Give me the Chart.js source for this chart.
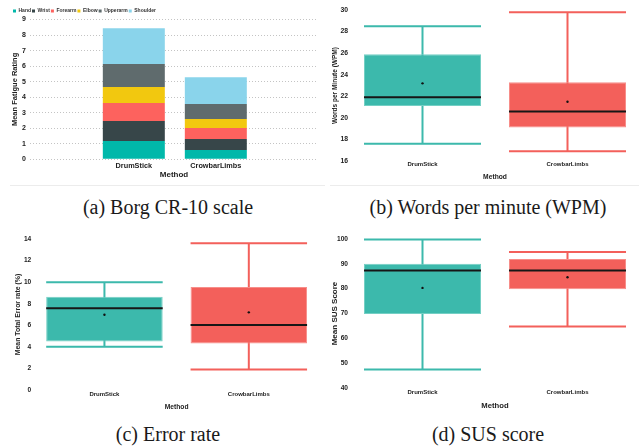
<!DOCTYPE html>
<html>
<head>
<meta charset="utf-8">
<script src="https://cdn.jsdelivr.net/npm/chart.js@4.4.1/dist/chart.umd.min.js"></script>
<style>
    body { margin: 0; width: 639px; height: 448px; overflow: hidden; background: #fff; position: relative; }
    canvas, .cap, .rule { position: absolute; }
    .cap { font-family: 'Liberation Serif', 'Times New Roman', serif; font-size: 20px; line-height: 20px; color: #1a1a1a; transform: translateX(-50%); white-space: nowrap; }
    .rule { height: 1px; background: #ececec; }
</style>
</head>
<body>
<canvas id="borgChart" width="322" height="186" style="left:0;top:0"></canvas>
<canvas id="wpmChart" width="318" height="186" style="left:322px;top:0"></canvas>
<canvas id="errorChart" width="322" height="192" style="left:0;top:222px"></canvas>
<canvas id="susChart" width="318" height="192" style="left:322px;top:222px"></canvas>
<div class="rule" style="left:10px;top:185px;width:315px"></div>
<div class="rule" style="left:330px;top:185px;width:309px"></div>
<div class="cap" style="left:168px;top:197px">(a) Borg CR-10 scale</div>
<div class="cap" style="left:488px;top:197px">(b) Words per minute (WPM)</div>
<div class="cap" style="left:168px;top:424px">(c) Error rate</div>
<div class="cap" style="left:488px;top:424px">(d) SUS score</div>
<script>
const methods = ['DrumStick', 'CrowbarLimbs'];

// Borg CR-10, stacked per body part
const bodyParts = ['Hand', 'Wrist', 'Forearm', 'Elbow', 'Upperarm', 'Shoulder'];
const partColors = ['#01B8AA', '#374649', '#FD625E', '#F2C80F', '#5F6B6D', '#8AD4EB'];
const fatigueDrumStick = [1.18, 1.28, 1.16, 1.03, 1.48, 2.31];
const fatigueCrowbarLimbs = [0.60, 0.71, 0.70, 0.58, 0.97, 1.73];

// box plots: min, q1, median, q3, max, mean per method
const methodColors = ['#3CB9AC', '#F3605B'];
const methodEdges = ['#74CFC4', '#F78E8A'];

const wpmMin = [17.6, 16.9];
const wpmQ1 = [21.1, 19.1];
const wpmMedian = [21.9, 20.6];
const wpmQ3 = [25.9, 23.3];
const wpmMax = [28.5, 29.8];
const wpmMean = [23.2, 21.5];

const errMin = [4.0, 1.9];
const errQ1 = [4.5, 4.3];
const errMedian = [7.57, 6.03];
const errQ3 = [8.65, 9.55];
const errMax = [10.0, 13.6];
const errMean = [6.97, 7.2];

const susMin = [47.4, 64.8];
const susQ1 = [69.8, 79.8];
const susMedian = [87.3, 87.3];
const susQ3 = [90.0, 91.9];
const susMax = [99.8, 94.8];
const susMean = [80.3, 84.6];

const ink = '#222';
const font = (size) => ({ family: "'Liberation Sans', Arial, sans-serif", size: size, weight: 'bold' });

// whiskers behind the box, median and mean on top
const boxWhiskers = {
    id: 'boxWhiskers',
    beforeDatasetsDraw(chart) {
        const ds = chart.data.datasets[0];
        const y = chart.scales.y;
        const ctx = chart.ctx;
        chart.getDatasetMeta(0).data.forEach((bar, i) => {
            const half = bar.width / 2;
            const hi = y.getPixelForValue(ds.whiskerHigh[i]);
            const lo = y.getPixelForValue(ds.whiskerLow[i]);
            ctx.save();
            ctx.strokeStyle = ds.backgroundColor[i];
            ctx.lineWidth = 2;
            ctx.beginPath();
            ctx.moveTo(bar.x, hi);
            ctx.lineTo(bar.x, lo);
            ctx.moveTo(bar.x - half, hi);
            ctx.lineTo(bar.x + half, hi);
            ctx.moveTo(bar.x - half, lo);
            ctx.lineTo(bar.x + half, lo);
            ctx.stroke();
            ctx.restore();
        });
    },
    afterDatasetsDraw(chart) {
        const ds = chart.data.datasets[0];
        const y = chart.scales.y;
        const ctx = chart.ctx;
        chart.getDatasetMeta(0).data.forEach((bar, i) => {
            const half = bar.width / 2;
            const med = y.getPixelForValue(ds.median[i]);
            const avg = y.getPixelForValue(ds.mean[i]);
            ctx.save();
            ctx.strokeStyle = '#161616';
            ctx.lineWidth = 2;
            ctx.beginPath();
            ctx.moveTo(bar.x - half, med);
            ctx.lineTo(bar.x + half, med);
            ctx.stroke();
            ctx.fillStyle = '#111';
            ctx.beginPath();
            ctx.arc(bar.x, avg, 1.2, 0, Math.PI * 2);
            ctx.fill();
            ctx.restore();
        });
    }
};

window.renderBoxChart = (canvasId, yLabel, stats, axis, box) => {
    const ctx = document.getElementById(canvasId).getContext('2d');
    return new Chart(ctx, {
        type: 'bar',
        data: {
            labels: methods,
            datasets: [{
                data: methods.map((m, i) => [stats.q1[i], stats.q3[i]]),
                backgroundColor: methodColors,
                borderColor: methodEdges,
                borderWidth: 1,
                borderSkipped: false,
                whiskerLow: stats.min,
                whiskerHigh: stats.max,
                median: stats.median,
                mean: stats.mean,
                categoryPercentage: 1,
                barPercentage: 0.807
            }]
        },
        plugins: [boxWhiskers],
        options: {
            responsive: false,
            animation: false,
            layout: { padding: { top: box.top, left: 0, right: box.right, bottom: 0 } },
            plugins: { legend: { display: false }, tooltip: { enabled: false } },
            scales: {
                x: {
                    grid: { display: false, drawTicks: false },
                    border: { display: false },
                    ticks: { font: font(box.catSize), color: ink, padding: box.catPad },
                    title: { display: true, text: 'Method', font: font(box.methodSize), color: ink, padding: { top: 0, bottom: box.methodPad } },
                    afterFit: (s) => { s.height = box.xHeight; }
                },
                y: {
                    min: axis.min,
                    max: axis.max,
                    ticks: { stepSize: axis.step, font: font(box.tickSize), color: ink, padding: box.tickPad },
                    grid: { display: false, drawTicks: false },
                    border: { display: false },
                    title: { display: true, text: yLabel, font: font(box.titleSize), color: ink, padding: { top: box.titlePad, bottom: 0 } },
                    afterFit: (s) => { s.width = box.yWidth; }
                }
            }
        }
    });
};

// legend is a little shorter than Chart.js makes it
const tightLegend = {
    id: 'tightLegend',
    beforeLayout(chart) {
        const lg = chart.legend;
        if (lg && !lg._tight) {
            const fit = lg.fit;
            lg.fit = function () { fit.call(this); this.height -= 4; };
            lg._tight = true;
        }
    }
};

const borgCtx = document.getElementById('borgChart').getContext('2d');
new Chart(borgCtx, {
    type: 'bar',
    data: {
        datasets: bodyParts.map((part, k) => ({
            label: part,
            data: [
                { x: 1, y: fatigueDrumStick[k] },
                { x: 2, y: fatigueCrowbarLimbs[k] }
            ],
            backgroundColor: partColors[k],
            categoryPercentage: 1,
            barPercentage: 0.756
        }))
    },
    plugins: [tightLegend],
    options: {
        responsive: false,
        animation: false,
        layout: { padding: { top: 7.5, left: 12, right: 4, bottom: 0 } },
        plugins: {
            tooltip: { enabled: false },
            legend: {
                position: 'top',
                align: 'start',
                labels: { font: font(5), color: '#333', boxWidth: 3, boxHeight: 3, padding: 1 }
            }
        },
        scales: {
            x: {
                type: 'linear',
                stacked: true,
                offset: false,
                bounds: 'data',
                min: -0.266,
                max: 3.246,
                afterBuildTicks: (s) => { s.ticks = [{ value: 1 }, { value: 2 }]; },
                ticks: { font: font(7.3), color: ink, padding: 2, callback: (v) => methods[v - 1] },
                grid: { display: false, drawTicks: false, offset: false },
                border: { display: false },
                title: { display: true, text: 'Method', font: font(8), color: ink, padding: { top: 0, bottom: 6 } },
                afterFit: (s) => { s.height = 26.7; }
            },
            y: {
                stacked: true,
                min: 0,
                max: 9,
                ticks: { stepSize: 1, font: font(7), color: ink, padding: 4 },
                grid: { color: '#c4c4c4', lineWidth: 1, drawTicks: false },
                border: { display: false, dash: [1, 2] },
                title: { display: true, text: 'Mean Fatigue Rating', font: font(7.5), color: ink, padding: { top: -1.5, bottom: 0 } },
                afterFit: (s) => { s.width = 18; }
            }
        }
    }
});

renderBoxChart('wpmChart', 'Words per Minute (WPM)',
    { min: wpmMin, q1: wpmQ1, median: wpmMedian, q3: wpmQ3, max: wpmMax, mean: wpmMean },
    { min: 16, max: 30, step: 2 },
    { top: 10, right: 0, xHeight: 25, yWidth: 28, tickSize: 6.8, tickPad: 2, titleSize: 6.5, titlePad: 9.1,
      catSize: 6, catPad: 0, methodSize: 6.7, methodPad: 5 });

renderBoxChart('errorChart', 'Mean Total Error rate (%)',
    { min: errMin, q1: errQ1, median: errMedian, q3: errQ3, max: errMax, mean: errMean },
    { min: 0, max: 14, step: 2 },
    { top: 17, right: 1, xHeight: 24, yWidth: 32.25, tickSize: 6.6, tickPad: 1, titleSize: 6.9, titlePad: 14,
      catSize: 6, catPad: 1, methodSize: 6.7, methodPad: 3 });

renderBoxChart('susChart', 'Mean SUS Score',
    { min: susMin, q1: susQ1, median: susMedian, q3: susQ3, max: susMax, mean: susMean },
    { min: 40, max: 100, step: 10 },
    { top: 17, right: 0, xHeight: 26, yWidth: 28, tickSize: 6.6, tickPad: 2, titleSize: 8, titlePad: 8.2,
      catSize: 6, catPad: 1, methodSize: 7.7, methodPad: 3.4 });
</script>
</body>
</html>
